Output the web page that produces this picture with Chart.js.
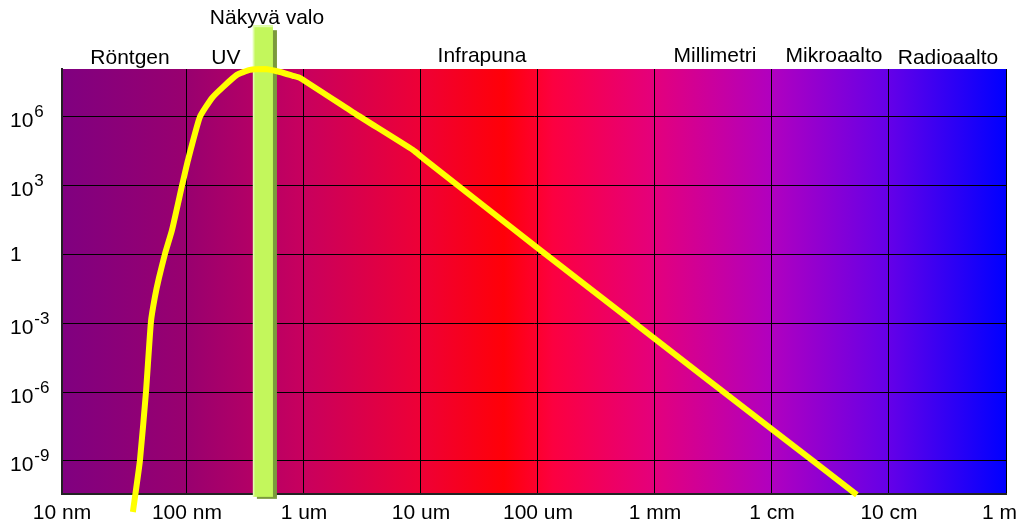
<!DOCTYPE html>
<html><head><meta charset="utf-8">
<script src="https://cdn.jsdelivr.net/npm/chart.js@4/dist/chart.umd.min.js"></script>
<style>html,body{margin:0;padding:0;background:#fff;overflow:hidden}</style>
</head><body>
<canvas id="c" width="1020" height="524"></canvas>
<script>
// ---- data ----
const wavelengths = [3.45e-8, 3.96e-8, 4.47e-8, 4.92e-8, 5.32e-8, 5.76e-8, 6.49e-8, 7.45e-8, 9.06e-8, 1.02e-7,
  1.29e-7, 1.64e-7, 2.03e-7, 2.67e-7, 3.45e-7, 4.64e-7, 6.24e-7, 8.05e-7, 9.25e-7, 2.84e-6,
  8.55e-6, 1.04e-5, 1.04e-4, 6.49e-4, 1.02e-2, 5.32e-2];
const intensity = [5.9e-12, 1.0e-9, 1.1e-6, 1.15e-3, 1.4e-2, 9.5e-2, 1.07, 11.7, 980, 1.3e4,
  1.0e6, 6.8e6, 2.0e7, 6.8e7, 1.12e8, 1.23e8, 9.1e7, 6.2e7, 5.0e7, 1.23e6,
  3.6e4, 1.6e4, 1.6, 1.15e-3, 2.2e-8, 3.3e-11];
const xTickValues = [1e-7, 1e-6, 1e-5, 1e-4, 1e-3, 1e-2, 1e-1, 1];
const xLabelValues = [8.55e-9, 1e-7, 1e-6, 1e-5, 1e-4, 1e-3, 1e-2, 1e-1, 1];
const xTickLabels = ['10 nm', '100 nm', '1 um', '10 um', '100 um', '1 mm', '1 cm', '10 cm', '1 m'];
const yTickValues = [1e6, 1e3, 1, 1e-3, 1e-6, 1e-9];
const yTickBase = ['10', '10', '1', '10', '10', '10'];
const yTickExp = ['6', '3', '', '-3', '-6', '-9'];
const bandLabels = ['Röntgen', 'UV', 'Infrapuna', 'Millimetri', 'Mikroaalto', 'Radioaalto'];
const bandCenters = [3.26e-8, 2.15e-7, 3.32e-5, 3.26e-3, 3.39e-2, 0.319];
const visibleLabel = 'Näkyvä valo';
const visibleLabelCenter = 4.83e-7;
const visibleBandX = [3.66e-7, 5.43e-7];
const visibleBandY = [2.7e-11, 1e10];
const xRange = [8.55e-9, 1];
const yRange = [3.6e-11, 1.23e8];

const FONT = "'Liberation Sans', Arial, sans-serif";

const bgPlugin = {
  id: 'bg',
  beforeDraw(chart) {
    const {ctx, chartArea: a} = chart;
    const g = ctx.createLinearGradient(a.left, 0, a.right, 0);
    g.addColorStop(0, '#800080');
    g.addColorStop(0.133, '#99006f');
    g.addColorStop(0.256, '#c8005e');
    g.addColorStop(0.38, '#ee0036');
    g.addColorStop(0.468, '#ff0008');
    g.addColorStop(0.52, '#fc0040');
    g.addColorStop(0.627, '#e4007c');
    g.addColorStop(0.753, '#b000c0');
    g.addColorStop(0.877, '#6400e8');
    g.addColorStop(1, '#0000ff');
    ctx.save();
    ctx.fillStyle = g;
    ctx.fillRect(a.left, a.top, a.right - a.left, a.bottom - a.top);
    ctx.restore();
  }
};

const bandPlugin = {
  id: 'band',
  beforeDatasetsDraw(chart) {
    const {ctx, scales: {x, y}} = chart;
    const x0 = x.getPixelForValue(visibleBandX[0]);
    const x1 = x.getPixelForValue(visibleBandX[1]);
    const yTop = y.getPixelForValue(visibleBandY[1]);
    const yBot = y.getPixelForValue(visibleBandY[0]);
    ctx.save();
    ctx.fillStyle = '#7b9a3c';
    ctx.fillRect(x0 + 4, yTop + 5, x1 - x0, yBot - yTop - 3);
    ctx.fillStyle = '#c3f75c';
    ctx.fillRect(x0, yTop, x1 - x0, yBot - yTop);
    ctx.fillStyle = '#e2fdae';
    ctx.fillRect(x0, yTop, 1.5, yBot - yTop);
    ctx.fillRect(x0, yTop, x1 - x0, 2);
    ctx.restore();
  }
};

const textPlugin = {
  id: 'texts',
  afterDraw(chart) {
    const {ctx, scales: {x, y}} = chart;
    ctx.save();
    ctx.fillStyle = '#000';
    // y tick labels with superscript exponents
    yTickValues.forEach((v, i) => {
      const g = y.getPixelForValue(v);
      ctx.textAlign = 'left';
      ctx.font = '21px ' + FONT;
      if (!yTickExp[i]) {
        ctx.textBaseline = 'middle';
        ctx.fillText(yTickBase[i], 10, g + 1);
      } else {
        ctx.textBaseline = 'alphabetic';
        ctx.fillText(yTickBase[i], 10, g + 10.5);
        const w = ctx.measureText(yTickBase[i]).width;
        ctx.font = '17px ' + FONT;
        ctx.fillText(yTickExp[i], 10 + w + 1, g + 0.5);
      }
    });
    // x tick labels (kept inside the canvas)
    ctx.font = '21px ' + FONT;
    ctx.textAlign = 'center';
    ctx.textBaseline = 'alphabetic';
    const W = chart.width;
    xTickLabels.forEach((t, i) => {
      const w = ctx.measureText(t).width;
      let px = x.getPixelForValue(xLabelValues[i]);
      px = Math.min(px, W - w / 2 - 3);
      px = Math.max(px, w / 2 + 3);
      ctx.fillText(t, px, 519);
    });
    // band labels on top
    const baselines = [64, 64, 62, 62, 62, 64];
    bandLabels.forEach((t, i) => {
      ctx.fillText(t, x.getPixelForValue(bandCenters[i]), baselines[i]);
    });
    ctx.fillText(visibleLabel, x.getPixelForValue(visibleLabelCenter), 24);
    ctx.restore();
  }
};

new Chart(document.getElementById('c'), {
  type: 'line',
  data: {
    datasets: [{
      data: wavelengths.map((w, i) => ({x: w, y: intensity[i]})),
      borderColor: '#ffff00',
      borderWidth: 6,
      pointRadius: 0,
      tension: 0.15,
      fill: false,
      clip: false,
      borderJoinStyle: 'round',
      borderCapStyle: 'butt'
    }]
  },
  options: {
    responsive: false,
    devicePixelRatio: 1,
    animation: false,
    layout: {padding: {top: 69, left: 0, right: 14, bottom: 0}},
    plugins: {legend: {display: false}, tooltip: {enabled: false}},
    scales: {
      x: {
        type: 'logarithmic',
        min: xRange[0], max: xRange[1],
        afterBuildTicks(s) { s.ticks = xTickValues.map(v => ({value: v})); },
        afterFit(s) { s.height = 30; },
        ticks: {display: false},
        grid: {color: '#000', lineWidth: 1, drawTicks: false},
        border: {color: '#222', width: 2}
      },
      y: {
        type: 'logarithmic',
        min: yRange[0], max: yRange[1],
        afterBuildTicks(s) { s.ticks = yTickValues.map(v => ({value: v})); },
        afterFit(s) { s.width = 62; },
        ticks: {display: false},
        grid: {color: '#000', lineWidth: 1, drawTicks: false},
        border: {color: '#222', width: 2}
      }
    }
  },
  plugins: [bgPlugin, bandPlugin, textPlugin]
});
</script>
</body></html>
